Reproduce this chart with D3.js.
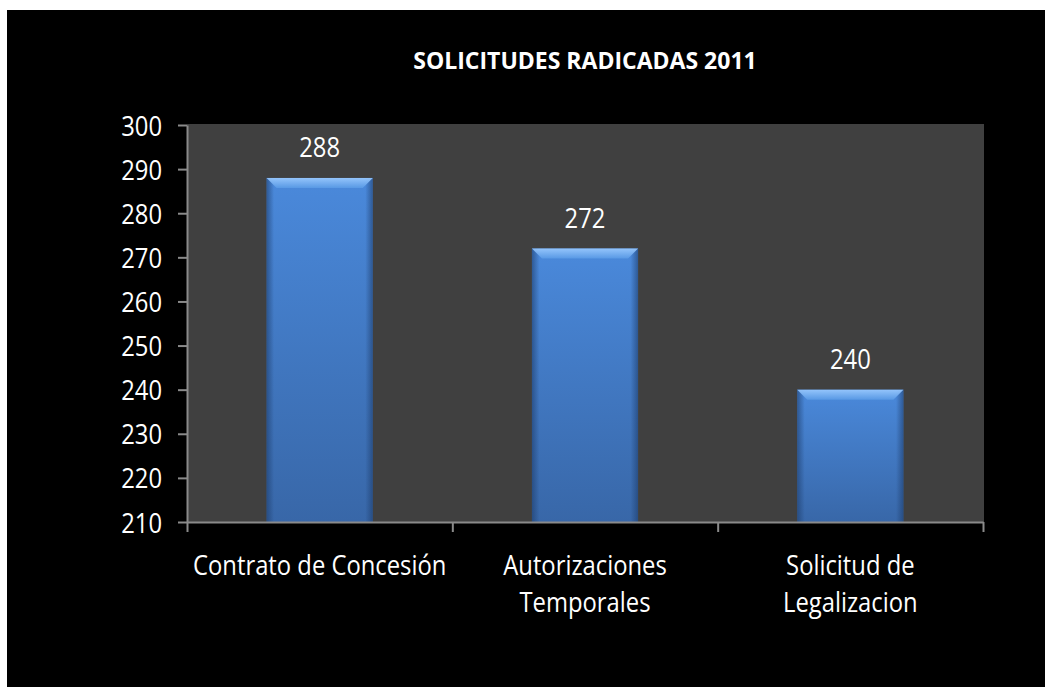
<!DOCTYPE html>
<html>
<head>
<meta charset="utf-8">
<script src="https://cdn.jsdelivr.net/npm/d3@7"></script>
<style>
  body { margin: 0; background: #fff; }
  svg { display: block; }
</style>
</head>
<body>
<svg width="1045" height="687"></svg>
<script>
// chart data
const title = 'SOLICITUDES RADICADAS 2011'
const categories = [
  ['Contrato de Concesión'],
  ['Autorizaciones', 'Temporales'],
  ['Solicitud de', 'Legalizacion']
]
const values = [288, 272, 240]
const yTicks = [210, 220, 230, 240, 250, 260, 270, 280, 290, 300]

const keys = categories.map(c => c.join(' '))
const sx = 0.85 // narrow the font a bit, like Calibri
const font = '28px "Open Sans"'

let margin = { top: 125, right: 62, bottom: 165, left: 187 }
let width = 1045
let height = 687

const svg = d3.select('svg')

// black card
svg.append('rect')
  .attr('x', 7).attr('y', 10)
  .attr('width', width - 7).attr('height', height - 10)
  .attr('fill', '#000')

let x = d3.scaleBand()
  .domain(keys)
  .range([margin.left, width - margin.right])
  .paddingInner(0.6)
  .paddingOuter(0.3)

let y = d3.scaleLinear()
  .domain([d3.min(yTicks), d3.max(yTicks)])
  .range([height - margin.bottom, margin.top])

let edge = d3.scaleLinear()
  .domain([0, keys.length])
  .range(x.range())

// plot area
svg.append('rect')
  .attr('x', margin.left)
  .attr('y', y(d3.max(yTicks)) - 1)
  .attr('width', x.range()[1] - x.range()[0] + 1)
  .attr('height', y(d3.min(yTicks)) - y(d3.max(yTicks)) + 1)
  .attr('fill', '#404040')

// gradients
const defs = svg.append('defs')
const g1 = defs.append('linearGradient').attr('id', 'barFill')
  .attr('x1', 0).attr('y1', 0).attr('x2', 0).attr('y2', 1)
g1.append('stop').attr('offset', '0%').attr('stop-color', '#4a89db')
g1.append('stop').attr('offset', '100%').attr('stop-color', '#3867a8')

const g2 = defs.append('linearGradient').attr('id', 'barSide')
  .attr('x1', 0).attr('y1', 0).attr('x2', 1).attr('y2', 0)
g2.append('stop').attr('offset', '0%').attr('stop-color', '#1d3c6a').attr('stop-opacity', 0.6)
g2.append('stop').attr('offset', '7%').attr('stop-color', '#1d3c6a').attr('stop-opacity', 0)
g2.append('stop').attr('offset', '93%').attr('stop-color', '#1d3c6a').attr('stop-opacity', 0)
g2.append('stop').attr('offset', '100%').attr('stop-color', '#1d3c6a').attr('stop-opacity', 0.6)

const g3 = defs.append('linearGradient').attr('id', 'barTop')
  .attr('x1', 0).attr('y1', 0).attr('x2', 0).attr('y2', 1)
g3.append('stop').attr('offset', '0%').attr('stop-color', '#9ccbff')
g3.append('stop').attr('offset', '100%').attr('stop-color', '#5a9be6')

const data = keys.map((k, i) => ({ key: k, value: values[i] }))
const bevel = 10

const bars = svg.append('g').selectAll('g')
  .data(data)
  .enter()
  .append('g')

bars.append('rect')
  .attr('x', d => x(d.key))
  .attr('y', d => y(d.value))
  .attr('width', x.bandwidth())
  .attr('height', d => y(d3.min(yTicks)) - y(d.value))
  .attr('fill', 'url(#barFill)')

bars.append('rect')
  .attr('x', d => x(d.key))
  .attr('y', d => y(d.value))
  .attr('width', x.bandwidth())
  .attr('height', d => y(d3.min(yTicks)) - y(d.value))
  .attr('fill', 'url(#barSide)')

bars.append('polygon')
  .attr('points', d => {
    let x0 = x(d.key), x1 = x0 + x.bandwidth(), y0 = y(d.value)
    return [[x0, y0], [x1, y0], [x1 - bevel, y0 + bevel], [x0 + bevel, y0 + bevel]].join(' ')
  })
  .attr('fill', 'url(#barTop)')
  .attr('opacity', 0.9)

// value labels
svg.append('g').selectAll('text')
  .data(data)
  .enter()
  .append('text')
  .attr('transform', d => `translate(${x(d.key) + x.bandwidth() / 2},${y(d.value) - 21}) scale(${sx},1)`)
  .attr('text-anchor', 'middle')
  .attr('fill', '#fff')
  .style('font', font)
  .text(d => d.value)

// y axis
let yAxis = svg.append('g')
  .attr('transform', `translate(${margin.left},0)`)
  .call(d3.axisLeft(y).tickValues(yTicks).tickSize(9).tickSizeOuter(0).tickPadding(0))
yAxis.select('.domain').attr('stroke', '#8a8a8a').attr('stroke-width', 2)
yAxis.selectAll('line').attr('stroke', '#8a8a8a').attr('stroke-width', 2)
yAxis.selectAll('text')
  .attr('x', null).attr('dy', null)
  .attr('transform', `translate(-25,10) scale(${sx},1)`)
  .attr('fill', '#fff')
  .style('font', font)

// x axis
let xAxis = svg.append('g')
  .attr('transform', `translate(0,${y(d3.min(yTicks))})`)
  .call(d3.axisBottom(edge).tickValues(d3.range(keys.length + 1)).tickSize(10).tickSizeOuter(0).tickFormat(''))
xAxis.select('.domain').attr('stroke', '#8a8a8a').attr('stroke-width', 2)
xAxis.selectAll('line').attr('stroke', '#8a8a8a').attr('stroke-width', 2)

// category labels
const lab = svg.append('g').selectAll('text')
  .data(categories)
  .enter()
  .append('text')
  .attr('transform', (d, i) => `translate(${x(keys[i]) + x.bandwidth() / 2},${y(d3.min(yTicks)) + 53}) scale(${sx},1)`)
  .attr('text-anchor', 'middle')
  .attr('fill', '#fff')
  .style('font', font)

lab.selectAll('tspan')
  .data(d => d)
  .enter()
  .append('tspan')
  .attr('x', 0)
  .attr('dy', (d, i) => (i ? 37 : 0))
  .text(d => d)

// title
svg.append('text')
  .attr('x', (x.range()[0] + x.range()[1]) / 2)
  .attr('y', 69)
  .attr('text-anchor', 'middle')
  .attr('fill', '#fff')
  .style('font', 'bold 23px "Open Sans"')
  .text(title)
</script>
</body>
</html>
